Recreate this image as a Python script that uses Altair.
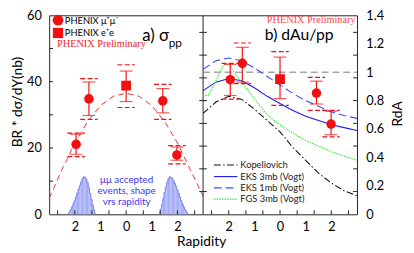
import altair as alt
import pandas as pd

# ---------------- data ----------------
# panel a) sigma_pp : BR*dsigma/dy (nb) vs rapidity
pp_rap = [-1.95, -1.45, 0.0, 1.43, 1.98]
pp_val = [21.1, 34.8, 38.8, 34.2, 17.9]
pp_stat_lo = [18.1, 29.8, 34.0, 30.6, 16.3]
pp_stat_hi = [24.2, 39.9, 43.2, 37.9, 20.3]
pp_sys_lo = [17.4, 28.6, 32.2, 28.6, 15.2]
pp_sys_hi = [24.5, 40.9, 45.1, 39.2, 20.7]
pp_kind = ["mumu", "mumu", "ee", "mumu", "mumu"]

fit_rap = [-3, -2.5, -2, -1.5, -1, -0.5, 0, 0.5, 1, 1.5, 2, 2.5, 3]
fit_val = [4.8, 13.5, 21.5, 28.0, 32.8, 35.6, 36.5, 35.6, 32.8, 28.0, 21.5, 13.5, 5.5]

hist_rap = [-2.25, -2.20, -2.15, -2.10, -2.05, -2.00, -1.95, -1.90, -1.85, -1.80, -1.75,
            -1.70, -1.65, -1.60, -1.55, -1.50, -1.45, -1.40, -1.35, -1.30, -1.25, -1.20,
            1.30, 1.35, 1.40, 1.45, 1.50, 1.55, 1.60, 1.65, 1.70, 1.75, 1.80, 1.85,
            1.90, 1.95, 2.00, 2.05, 2.10, 2.15, 2.20, 2.25, 2.30, 2.35, 2.40]
hist_val = [0.3, 0.8, 1.5, 2.3, 3.2, 4.2, 5.3, 6.4, 7.6, 8.7, 9.8,
            10.7, 11.3, 11.2, 10.6, 9.5, 8.0, 6.3, 4.5, 2.8, 1.4, 0.5,
            0.5, 1.5, 3.0, 4.8, 6.6, 8.2, 9.6, 10.7, 11.3, 11.2, 10.8, 10.1,
            9.3, 8.4, 7.4, 6.3, 5.2, 4.1, 3.1, 2.2, 1.4, 0.8, 0.3]

# panel b) dAu/pp : RdA vs rapidity
ra_rap = [-1.94, -1.47, 0.0, 1.42, 1.99]
ra_val = [0.947, 1.062, 0.951, 0.853, 0.635]
ra_stat_lo = [0.836, 0.93, 0.814, 0.776, 0.56]
ra_stat_hi = [1.055, 1.175, 1.106, 0.937, 0.725]
ra_sys_lo = [0.81, 0.92, 0.767, 0.731, 0.545]
ra_sys_hi = [1.062, 1.205, 1.144, 0.964, 0.731]
ra_kind = ["mumu", "mumu", "ee", "mumu", "mumu"]

curve_rap = [-3, -2.5, -2, -1.5, -1, -0.5, 0, 0.5, 1, 1.5, 2, 2.5, 3]
kop_val = [0.71, 0.79, 0.83, 0.81, 0.74, 0.66, 0.58, 0.47, 0.38, 0.29, 0.22, 0.165, 0.13]
eks3_val = [0.87, 0.93, 0.955, 0.94, 0.89, 0.83, 0.78, 0.73, 0.69, 0.66, 0.63, 0.61, 0.59]
eks1_val = [1.02, 1.08, 1.10, 1.08, 1.03, 0.97, 0.91, 0.85, 0.80, 0.76, 0.72, 0.695, 0.675]
fgs_rap = [-3, -2.8, -2.6, -2.4, -2.2, -2.0, -1.8, -1.5, -1.2, -0.9, -0.6, -0.3,
           0, 0.5, 1, 1.5, 2, 2.5, 3]
fgs_val = [0.83, 0.84, 0.90, 0.98, 1.05, 1.06, 1.0, 0.93, 0.86, 0.79, 0.72, 0.67,
           0.63, 0.57, 0.52, 0.48, 0.44, 0.41, 0.38]

legend_names = ["Kopeliovich", "EKS 3mb (Vogt)", "EKS 1mb (Vogt)", "FGS 3mb (Vogt)"]

x_tick_pos = [-2.67, -2.0, -1.33, -0.67, 0.0, 0.67, 1.33, 2.0, 2.67]
left_ytick = [10, 20, 30, 40, 50]
rda_tick = [0.16, 0.32, 0.48, 0.64, 0.80, 0.96, 1.12, 1.28]

SHIFT = 6  # panel b drawn to the right of panel a on the same x scale
RED = "#f01010"
FONT = "Lato"

# ---------------- encodings ----------------
X = alt.X("x:Q", title="Rapidity",
          scale=alt.Scale(domain=[-3, 9], nice=False, zero=False),
          axis=alt.Axis(values=[-2, -1, 0, 1, 2, 4, 5, 6, 7, 8],
                        labelExpr="datum.value < 3 ? abs(datum.value) : abs(datum.value - 6)",
                        ticks=False, domain=False, grid=False, labelFontSize=13,
                        labelPadding=7, labelFlush=False, labelOverlap=False,
                        titleFontSize=14, titleX=155, titleY=32,
                        titleBaseline="alphabetic"))
X2 = alt.X2("x2:Q")
YL = alt.Y("v:Q", title="BR * dσ/dY(nb)",
           scale=alt.Scale(domain=[0, 60], nice=False, zero=False),
           axis=alt.Axis(values=[0, 20, 40, 60], ticks=False, domain=False, grid=False,
                         labelFontSize=13, labelPadding=8, labelFlush=False,
                         labelOverlap=False, titleFontSize=14, titleAngle=270,
                         titleX=-32, titleY=88, titleBaseline="middle",
                         titleAlign="center"))
YL2 = alt.Y2("v2:Q")
YR = alt.Y("r:Q", title="RdA",
           scale=alt.Scale(domain=[0, 1.4], nice=False, zero=False),
           axis=alt.Axis(orient="right", values=[0, 0.2, 0.4, 0.6, 0.8, 1.0, 1.2, 1.4],
                         format="~g", ticks=False, domain=False, grid=False,
                         labelFontSize=13, labelPadding=9, labelFlush=False,
                         labelOverlap=False, titleFontSize=14, titleAngle=270,
                         titleX=41, titleY=100, titleBaseline="middle",
                         titleAlign="center"))
YR2 = alt.Y2("r2:Q")

one = pd.DataFrame({"a": [0]})


def txt(s, px, py, size, color="black", font=FONT, align="left", baseline="alphabetic", **kw):
    return alt.Chart(one).mark_text(text=s, fontSize=size, color=color, font=font,
                                    align=align, baseline=baseline, **kw).encode(
        x=alt.value(px), y=alt.value(py))


# ---------------- panel a layers ----------------
hist_df = pd.DataFrame({"c": hist_rap, "v": hist_val})
hist_df["x"] = hist_df["c"] - 0.025
hist_df["x2"] = hist_df["c"] + 0.025
hist_df["v2"] = 0.0
hist_bars = alt.Chart(hist_df).mark_rect(color="#a4acf5").encode(x=X, x2=X2, y=YL, y2=YL2)
hist_line_df = hist_df.copy()
hist_line_df["x"] = hist_line_df["c"]
hist_line_df["grp"] = ["L" if c < 0 else "R" for c in hist_line_df["c"]]
hist_line = alt.Chart(hist_line_df).mark_line(color="#6b74ee", strokeWidth=0.8,
                                              interpolate="step").encode(
    x=X, y=YL, detail="grp:N")

fit_df = pd.DataFrame({"x": fit_rap, "v": fit_val})
fit_line = alt.Chart(fit_df).mark_line(color="#f03030", strokeWidth=1,
                                       strokeDash=[6, 4]).encode(x=X, y=YL)

pp = pd.DataFrame({"x": pp_rap, "v": pp_val, "lo": pp_stat_lo, "hi": pp_stat_hi,
                   "slo": pp_sys_lo, "shi": pp_sys_hi, "kind": pp_kind})
pp_bar = alt.Chart(pp.assign(v=pp["lo"], v2=pp["hi"])).mark_rule(
    color=RED, strokeWidth=1.2).encode(x=X, y=YL, y2=YL2)
pp_caps = alt.Chart(pd.concat([pp.assign(v=pp["lo"]), pp.assign(v=pp["hi"])])).mark_tick(
    orient="horizontal", size=13, thickness=1.2, color=RED).encode(x=X, y=YL)
pp_sys = pd.concat([pp.assign(v=pp["slo"]), pp.assign(v=pp["shi"])])
pp_sys["x2"] = pp_sys["x"] + 0.34
pp_sys["x"] = pp_sys["x"] - 0.34
pp_sysc = alt.Chart(pp_sys).mark_rule(color=RED, strokeWidth=1.2,
                                      strokeDash=[5, 2.5]).encode(x=X, x2=X2, y=YL)
pp_circ = alt.Chart(pp[pp["kind"] == "mumu"]).mark_point(
    shape="circle", filled=True, size=95, color=RED, opacity=1).encode(x=X, y=YL)
pp_sq = alt.Chart(pp[pp["kind"] == "ee"]).mark_point(
    shape="square", filled=True, size=100, color=RED, opacity=1).encode(x=X, y=YL)

# frame ticks / divider
div_df = pd.DataFrame({"x": [3], "v": [0], "v2": [60]})
divider = alt.Chart(div_df).mark_rule(color="#222", strokeWidth=1).encode(x=X, y=YL, y2=YL2)
lyt = pd.DataFrame({"v": left_ytick})
lyt["x"] = -3
lyt["x2"] = -3 + 0.15
lytick = alt.Chart(lyt).mark_rule(color="#222", strokeWidth=1).encode(x=X, x2=X2, y=YL)
xt = pd.DataFrame({"x": x_tick_pos + [p + SHIFT for p in x_tick_pos]})
xt["v"] = 0
xt["v2"] = 1.2
xtick = alt.Chart(xt).mark_rule(color="#222", strokeWidth=1).encode(x=X, y=YL, y2=YL2)

left_group = alt.layer(
    hist_bars, hist_line, fit_line, divider, lytick, xtick,
    pp_sysc, pp_bar, pp_caps, pp_circ, pp_sq,
    # legend of panel a
    alt.Chart(one).mark_point(shape="circle", filled=True, size=120, color=RED,
                              opacity=1).encode(x=alt.value(9), y=alt.value(5)),
    alt.Chart(one).mark_point(shape="square", filled=True, size=110, color=RED,
                              opacity=1).encode(x=alt.value(9), y=alt.value(18)),
    txt("PHENIX μ⁺μ⁻", 16, 8.5, 9.5),
    txt("PHENIX e⁺e", 16, 21.5, 9.5),
    txt("PHENIX Preliminary", 8, 32, 10.5, color="#f02828", font="Liberation Serif"),
    txt("a) σ", 95, 26, 17),
    txt("pp", 122, 32, 12),
    txt(["μμ accepted", "events, shape", "vrs rapidity"], 79, 171, 10,
        color="#3838f2", align="center", lineHeight=11),
)

# ---------------- panel b layers ----------------
one_line = pd.DataFrame({"x": [3], "x2": [9], "r": [1.0]})
unity = alt.Chart(one_line).mark_rule(color="#777", strokeWidth=1,
                                      strokeDash=[7, 4]).encode(x=X, x2=X2, y=YR)

rt_rows = []
for t in rda_tick:
    rt_rows.append({"x": 3 - 0.15, "x2": 3 + 0.15, "r": t})
    rt_rows.append({"x": 9 - 0.15, "x2": 9, "r": t})
rtick = alt.Chart(pd.DataFrame(rt_rows)).mark_rule(color="#222", strokeWidth=1).encode(
    x=X, x2=X2, y=YR)


def curve(rap, val, color, dash, width=1.1):
    df = pd.DataFrame({"x": [p + SHIFT for p in rap], "r": val})
    kw = {"strokeDash": dash} if dash else {}
    return alt.Chart(df).mark_line(color=color, strokeWidth=width, **kw).encode(x=X, y=YR)


kop = curve(curve_rap, kop_val, "#111", [7, 2.5, 1.5, 2.5])
eks3 = curve(curve_rap, eks3_val, "#1a1aff", None)
eks1 = curve(curve_rap, eks1_val, "#3a4cff", [8, 4])
fgs = curve(fgs_rap, fgs_val, "#22ee22", [1.5, 1.2])

ra = pd.DataFrame({"x": [p + SHIFT for p in ra_rap], "r": ra_val, "lo": ra_stat_lo,
                   "hi": ra_stat_hi, "slo": ra_sys_lo, "shi": ra_sys_hi, "kind": ra_kind})
ra_bar = alt.Chart(ra.assign(r=ra["lo"], r2=ra["hi"])).mark_rule(
    color=RED, strokeWidth=1.2).encode(x=X, y=YR, y2=YR2)
ra_caps = alt.Chart(pd.concat([ra.assign(r=ra["lo"]), ra.assign(r=ra["hi"])])).mark_tick(
    orient="horizontal", size=13, thickness=1.2, color=RED).encode(x=X, y=YR)
ra_sys = pd.concat([ra.assign(r=ra["slo"]), ra.assign(r=ra["shi"])])
ra_sys["x2"] = ra_sys["x"] + 0.34
ra_sys["x"] = ra_sys["x"] - 0.34
ra_sysc = alt.Chart(ra_sys).mark_rule(color=RED, strokeWidth=1.2,
                                      strokeDash=[5, 2.5]).encode(x=X, x2=X2, y=YR)
ra_circ = alt.Chart(ra[ra["kind"] == "mumu"]).mark_point(
    shape="circle", filled=True, size=95, color=RED, opacity=1).encode(x=X, y=YR)
ra_sq = alt.Chart(ra[ra["kind"] == "ee"]).mark_point(
    shape="square", filled=True, size=100, color=RED, opacity=1).encode(x=X, y=YR)

leg_styles = [("#111", [7, 2.5, 1.5, 2.5]), ("#1a1aff", None), ("#3a4cff", [8, 4]),
              ("#22ee22", [1.5, 1.2])]
leg_rows_y = [152.7, 164.5, 176, 187.5]
leg_layers = []
for name, (col, dash), yy in zip(legend_names, leg_styles, leg_rows_y):
    kw = {"strokeDash": dash} if dash else {}
    leg_layers.append(alt.Chart(one).mark_rule(color=col, strokeWidth=1.1, **kw).encode(
        x=alt.value(168), x2=alt.value(192), y=alt.value(yy)))
    leg_layers.append(txt(name, 195, yy, 9.5, color="#222", baseline="middle"))

right_group = alt.layer(
    unity, rtick, kop, eks3, eks1, fgs, ra_sysc, ra_bar, ra_caps, ra_circ, ra_sq,
    *leg_layers,
    txt("PHENIX Preliminary", 222, 7.5, 10.5, color="#ff4a4a", font="Liberation Serif"),
    txt("b) dAu/pp", 220, 25, 16),
)

chart = alt.layer(left_group, right_group).resolve_scale(y="independent").properties(
    width=314, height=203,
    padding={"left": 42, "top": 5, "right": 50, "bottom": 37},
    autosize=alt.AutoSizeParams(type="none"),
).configure_view(stroke="#222", strokeWidth=1).configure_axis(
    labelFont=FONT, titleFont=FONT, labelColor="black", titleColor="black",
    titleFontWeight="normal")

chart.save("out.html", embed_options={"renderer": "svg", "actions": False})
